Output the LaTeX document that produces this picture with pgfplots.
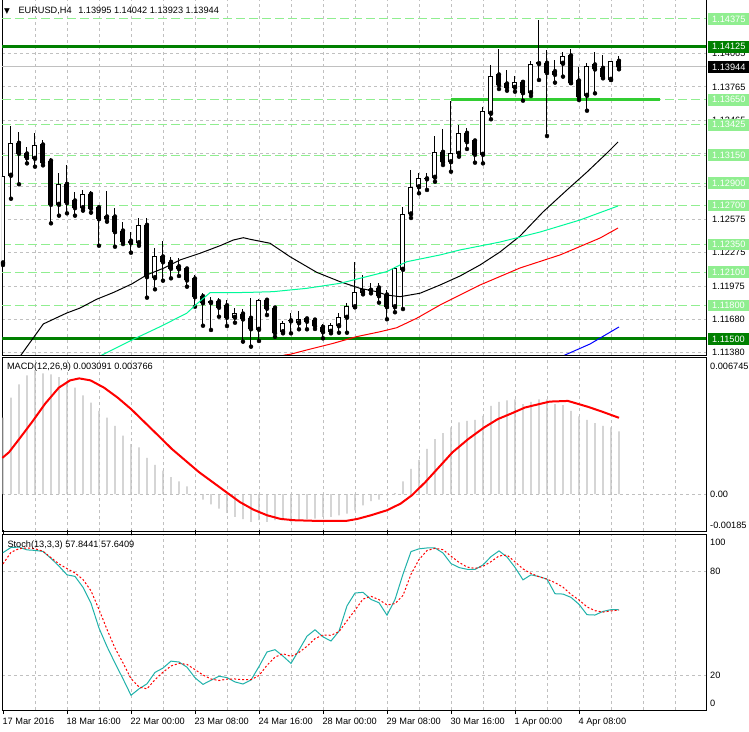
\documentclass[border=0pt]{standalone}
\usepackage{fontspec}
\setmainfont{Liberation Sans}
\newfontfamily\dejavu{DejaVu Sans}
\usepackage{pgfplots}
\usepackage{pgfplotstable}
\pgfplotsset{compat=1.18}
\definecolor{lgreen}{HTML}{90EE90}
\definecolor{dgreen}{HTML}{008000}
\definecolor{limeg}{HTML}{32CD32}
\definecolor{sgreen}{HTML}{00FA9A}
\definecolor{gridgray}{HTML}{C0C0C0}
\definecolor{silv}{HTML}{C0C0C0}
\definecolor{lsea}{HTML}{20B2AA}
\newcommand\lblfont{\fontsize{9.2}{11}\selectfont}
\newcommand\plbl[1]{\makebox[41pt][l]{\hspace{4pt}\rule[-2.7pt]{0pt}{11.7pt}#1}}
\newcommand\clbl[2]{{\setlength\fboxsep{0pt}\colorbox{#1}{\makebox[41pt][l]{\hspace{4pt}\rule[-2.7pt]{0pt}{11.7pt}\textcolor{white}{#2}}}}}

\pgfplotstableread{
i O H L C
0 1.12183 1.13027 1.12165 1.12964
1 1.12971 1.13414 1.12760 1.13258
2 1.13258 1.13357 1.12890 1.13168
3 1.13162 1.13222 1.13078 1.13129
4 1.13123 1.13348 1.13048 1.13240
5 1.13243 1.13288 1.13060 1.13087
6 1.13099 1.13129 1.12539 1.12710
7 1.12710 1.12994 1.12608 1.12890
8 1.12890 1.13063 1.12629 1.12725
9 1.12740 1.12821 1.12608 1.12680
10 1.12680 1.12839 1.12653 1.12800
11 1.12800 1.12832 1.12635 1.12674
12 1.12680 1.12695 1.12338 1.12581
13 1.12596 1.12830 1.12554 1.12584
14 1.12596 1.12680 1.12329 1.12464
15 1.12470 1.12551 1.12353 1.12374
16 1.12378 1.12464 1.12275 1.12365
17 1.12365 1.12590 1.12338 1.12521
18 1.12521 1.12584 1.11871 1.12060
19 1.12051 1.12315 1.11946 1.12237
20 1.12237 1.12380 1.12024 1.12194
21 1.12189 1.12239 1.12045 1.12135
22 1.12149 1.12225 1.12066 1.12131
23 1.12129 1.12149 1.11970 1.12030
24 1.12039 1.12075 1.11790 1.11880
25 1.11880 1.11910 1.11619 1.11826
26 1.11828 1.11874 1.11581 1.11837
27 1.11835 1.11866 1.11700 1.11785
28 1.11799 1.11850 1.11617 1.11695
29 1.11695 1.11776 1.11646 1.11731
30 1.11724 1.11767 1.11476 1.11680
31 1.11686 1.11866 1.11431 1.11592
32 1.11587 1.11860 1.11482 1.11848
33 1.11848 1.11850 1.11715 1.11776
34 1.11778 1.11780 1.11520 1.11556
35 1.11565 1.11664 1.11551 1.11641
36 1.11663 1.11731 1.11551 1.11670
37 1.11646 1.11751 1.11587 1.11677
38 1.11680 1.11695 1.11587 1.11659
39 1.11670 1.11680 1.11590 1.11619
40 1.11605 1.11635 1.11506 1.11565
41 1.11569 1.11641 1.11551 1.11619
42 1.11619 1.11731 1.11556 1.11691
43 1.11695 1.11826 1.11556 1.11790
44 1.11790 1.12194 1.11785 1.11919
45 1.11919 1.12075 1.11901 1.11946
46 1.11937 1.12000 1.11910 1.11943
47 1.11958 1.12006 1.11826 1.11889
48 1.11895 1.11940 1.11677 1.11790
49 1.11790 1.12149 1.11740 1.12135
50 1.12126 1.12686 1.11769 1.12614
51 1.12623 1.13018 1.12587 1.12863
52 1.12868 1.12989 1.12809 1.12944
53 1.12939 1.12989 1.12839 1.12944
54 1.12953 1.13324 1.12913 1.13177
55 1.13177 1.13384 1.13063 1.13093
56 1.13093 1.13641 1.13003 1.13168
57 1.13168 1.13423 1.13138 1.13348
58 1.13348 1.13398 1.13207 1.13273
59 1.13279 1.13288 1.13084 1.13159
60 1.13159 1.13587 1.13078 1.13542
61 1.13528 1.13962 1.13474 1.13857
62 1.13872 1.14103 1.13746 1.13782
63 1.13791 1.13917 1.13731 1.13761
64 1.13761 1.13863 1.13722 1.13806
65 1.13806 1.13827 1.13641 1.13713
66 1.13713 1.13998 1.13683 1.13968
67 1.13974 1.14366 1.13827 1.13980
68 1.13977 1.14097 1.13324 1.13893
69 1.13902 1.14007 1.13803 1.13878
70 1.13977 1.14081 1.13857 1.14036
71 1.14043 1.14103 1.13800 1.13803
72 1.13818 1.13941 1.13647 1.13677
73 1.13689 1.13977 1.13551 1.13946
74 1.13962 1.14076 1.13707 1.13926
75 1.13932 1.14052 1.13842 1.13857
76 1.13833 1.14000 1.13827 1.13990
77 1.13995 1.14042 1.13923 1.13944
}\candles

\pgfplotstableread{
i m
0 0.003781
1 0.004764
2 0.005419
3 0.005860
4 0.006122
5 0.005959
6 0.005910
7 0.005779
8 0.005582
9 0.005255
10 0.004878
11 0.004518
12 0.004109
13 0.003781
14 0.003372
15 0.002881
16 0.002472
17 0.002308
18 0.001784
19 0.001441
20 0.001162
21 0.000835
22 0.000622
23 0.000377
24 -0.000065
25 -0.000278
26 -0.000507
27 -0.000720
28 -0.000933
29 -0.001130
30 -0.001244
31 -0.001375
32 -0.001293
33 -0.001375
34 -0.001293
35 -0.001293
36 -0.001375
37 -0.001293
38 -0.001244
39 -0.001211
40 -0.001130
41 -0.001130
42 -0.001048
43 -0.000966
44 -0.000802
45 -0.000557
46 -0.000344
47 -0.000278
48 -0.000065
49 0.000050
50 0.000622
51 0.001244
52 0.001686
53 0.002226
54 0.002717
55 0.003012
56 0.003290
57 0.003536
58 0.003618
59 0.003667
60 0.003863
61 0.004354
62 0.004551
63 0.004633
64 0.004682
65 0.004436
66 0.004551
67 0.004682
68 0.004682
69 0.004436
70 0.004387
71 0.004109
72 0.003831
73 0.003667
74 0.003503
75 0.003372
76 0.003290
77 0.003091
}\macdtab

\pgfplotstableread{
i k d
0 90.8 84.3
1 93.8 91.0
2 94.0 93.1
3 92.4 93.5
4 92.1 93.1
5 91.5 91.6
6 87.5 87.9
7 83.0 84.3
8 78.0 81.6
9 77.1 79.1
10 70.8 75.3
11 61.6 68.8
12 47.3 58.0
13 36.6 46.5
14 27.1 35.7
15 18.0 27.2
16 8.5 18.1
17 12.2 13.3
18 15.1 12.2
19 21.7 17.5
20 24.2 21.8
21 28.2 25.4
22 27.7 26.9
23 24.7 26.3
24 18.6 23.3
25 14.8 20.2
26 17.2 17.9
27 19.5 17.0
28 18.7 17.8
29 16.2 17.9
30 15.0 17.5
31 17.3 17.5
32 25.1 19.9
33 33.5 25.8
34 34.8 30.5
35 31.1 32.5
36 26.9 30.9
37 34.6 33.2
38 42.6 36.8
39 46.3 41.2
40 42.2 43.3
41 39.8 43.1
42 45.5 45.2
43 60.1 51.5
44 67.5 57.6
45 67.9 64.0
46 63.8 65.6
47 61.9 63.7
48 54.7 60.6
49 63.7 61.4
50 78.4 66.1
51 91.4 78.3
52 93.0 86.8
53 93.5 92.0
54 93.5 93.3
55 90.6 92.5
56 84.5 88.8
57 82.2 85.2
58 81.2 82.5
59 81.1 81.7
60 83.7 82.9
61 88.5 85.6
62 91.8 88.9
63 88.3 89.4
64 82.3 85.5
65 75.1 81.4
66 78.0 78.8
67 77.0 76.9
68 75.5 75.5
69 67.1 73.5
70 66.9 70.9
71 65.0 66.7
72 61.0 63.5
73 55.0 59.5
74 54.8 57.3
75 56.9 56.5
76 57.9 57.2
77 57.84 57.64
}\stochtab

\pgfplotsset{
  common/.style={
    anchor=south west, scale only axis, width=704pt,
    xmin=-0.125, xmax=87.875,
    axis line style={black, line width=0.8pt},
    clip mode=individual,
    xtick={4,8,...,84}, xticklabels={},
    xmajorgrids, ymajorgrids,
    grid style={gridgray, line width=0.8pt, dash pattern=on 3pt off 3pt},
    major tick length=0pt,
    ytick pos=right, yticklabel pos=right,
    scaled y ticks=false,
    yticklabel style={anchor=west, inner sep=0pt, font=\lblfont},
    xticklabel style={font=\lblfont},
    tick style={black, line width=0.8pt},
  },
  lvl/.style={lgreen, line width=1pt, dash pattern=on 9pt off 4pt},
  ebar/.style={only marks, mark=none, error bars/.cd, y dir=plus, y explicit, error mark=none},
}

\begin{document}
\begin{tikzpicture}
\useasboundingbox (0pt,0pt) rectangle (749pt,731pt);
\fill[white] (0pt,0pt) rectangle (749pt,731pt);

%================ MAIN PRICE PANEL =================
\begin{axis}[common, at={(2pt,376pt)}, height=356pt,
  ymin=1.113561, ymax=1.145547,
  yticklabel style={xshift=2pt},
  ytick={1.14065,1.13765,1.13465,1.13170,1.12870,1.12575,1.12275,1.11975,1.11680,1.11380},
  yticklabels={\plbl{1.14065},\plbl{1.13765},\plbl{1.13465},\plbl{1.13170},\plbl{1.12870},\plbl{1.12575},\plbl{1.12275},\plbl{1.11975},\plbl{1.11680},\plbl{1.11380}},
  extra y ticks={1.14375,1.13650,1.13425,1.13150,1.12900,1.12700,1.12350,1.12100,1.11800,1.14125,1.11500,1.13944},
  extra y tick labels={\clbl{lgreen}{1.14375},\clbl{lgreen}{1.13650},\clbl{lgreen}{1.13425},\clbl{lgreen}{1.13150},\clbl{lgreen}{1.12900},\clbl{lgreen}{1.12700},\clbl{lgreen}{1.12350},\clbl{lgreen}{1.12100},\clbl{lgreen}{1.11800},\clbl{dgreen}{1.14125},\clbl{dgreen}{1.11500},\clbl{black}{1.13944}},
  extra y tick style={grid=none},
]
% horizontal levels
\addplot[lvl] coordinates {(-0.125,1.14375) (87.875,1.14375)};
\addplot[lvl] coordinates {(-0.125,1.13650) (87.875,1.13650)};
\addplot[lvl] coordinates {(-0.125,1.13425) (87.875,1.13425)};
\addplot[lvl] coordinates {(-0.125,1.13150) (87.875,1.13150)};
\addplot[lvl] coordinates {(-0.125,1.12900) (87.875,1.12900)};
\addplot[lvl] coordinates {(-0.125,1.12700) (87.875,1.12700)};
\addplot[lvl] coordinates {(-0.125,1.12350) (87.875,1.12350)};
\addplot[lvl] coordinates {(-0.125,1.12100) (87.875,1.12100)};
\addplot[lvl] coordinates {(-0.125,1.11800) (87.875,1.11800)};
\addplot[silv, line width=1pt] coordinates {(-0.125,1.13944) (87.875,1.13944)};
\addplot[dgreen, line width=3pt] coordinates {(-0.125,1.14125) (87.875,1.14125)};
\addplot[dgreen, line width=3pt] coordinates {(-0.125,1.11500) (87.875,1.11500)};
\addplot[limeg, line width=3pt] coordinates {(56,1.13650) (82.1,1.13650)};
% candles: wicks, bodies
\addplot[ebar, error bar style={black, line width=1pt}]
  table[x=i, y=L, y error plus expr={\thisrow{H}-\thisrow{L}}] {\candles};
\addplot[ebar, error bar style={black, line width=5pt}]
  table[x=i, y expr={min(\thisrow{O},\thisrow{C})-0.000045}, y error plus expr={abs(\thisrow{C}-\thisrow{O})+0.00009}] {\candles};
\addplot[ebar, error bar style={white, line width=3pt}]
  table[x=i, y expr={\thisrow{O}+0.000045}, y error plus expr={(\thisrow{C}>\thisrow{O})*max(\thisrow{C}-\thisrow{O}-0.00009,0)}] {\candles};
% moving averages
\addplot[black, line width=1pt] coordinates {(1.63,1.11293) (2.88,1.11419) (5.04,1.11635) (7.96,1.11733) (9.63,1.11778) (11.71,1.11857) (13.75,1.11916) (16.09,1.11994) (17.96,1.12075) (20.04,1.12135) (22.13,1.12210) (24.63,1.12270) (27.13,1.12338) (28.79,1.12389) (30.04,1.12410) (30.88,1.12396) (33.38,1.12360) (35.88,1.12239) (39.21,1.12099) (42.13,1.12015) (44.63,1.11955) (46.71,1.11925) (47.96,1.11895) (49.63,1.11880) (52.13,1.11911) (54.63,1.11985) (57.13,1.12066) (59.63,1.12165) (62.13,1.12282) (64.63,1.12425) (67.5,1.12641) (70.5,1.12839) (73,1.13000) (75.5,1.13171) (76.88,1.13270)};
\addplot[sgreen, line width=1pt] coordinates {(10.6,1.11293) (13.79,1.11407) (16.29,1.11497) (19.63,1.11610) (22.96,1.11731) (24.21,1.11814) (25.88,1.11916) (28.75,1.11916) (30.88,1.11919) (33.75,1.11925) (37.96,1.11955) (42.13,1.12000) (46.29,1.12075) (47.96,1.12105) (50.46,1.12194) (54.63,1.12255) (57.13,1.12300) (62.13,1.12371) (67.13,1.12461) (72.13,1.12569) (76.88,1.12695)};
\addplot[red, line width=1pt] coordinates {(32.1,1.11293) (35.25,1.11356) (35.88,1.11362) (37.96,1.11401) (41.29,1.11461) (44.21,1.11521) (47.13,1.11565) (49.21,1.11601) (51.71,1.11686) (54.63,1.11805) (59.63,1.11985) (64.63,1.12138) (69.63,1.12255) (74.63,1.12407) (76.88,1.12497)};
\addplot[blue, line width=1pt] coordinates {(68.56,1.11293) (70.25,1.11356) (73.38,1.11455) (77,1.11608)};
\end{axis}

%================ MACD PANEL =================
\begin{axis}[common, at={(2pt,199.5pt)}, height=174pt,
  ymin=-0.00185, ymax=0.006745,
  yticklabel style={xshift=4pt},
  ytick={0}, yticklabels={0.00},
  extra y ticks={0.006325,-0.001529}, extra y tick labels={0.006745,-0.00185},
  extra y tick style={grid=none},
]
\addplot[ybar, bar width=1.3pt, fill=silv, draw=none] table[x=i, y=m] {\macdtab};
\addplot[red, line width=2pt] coordinates {(-0.09,0.001784) (0.75,0.002063) (2.18,0.002799) (3.59,0.003536) (5.28,0.004469) (6.98,0.005255) (8.39,0.005615) (9.53,0.005713) (10.94,0.005615) (12.63,0.005255) (14.33,0.004764) (16.03,0.004191) (17.73,0.003536) (19.43,0.002881) (21.11,0.002226) (22.81,0.001653) (24.51,0.001080) (26.21,0.000589) (27.9,0.000098) (29.6,-0.000393) (31.3,-0.000769) (33,-0.001048) (34.69,-0.001228) (36.39,-0.001293) (39.21,-0.001326) (42.9,-0.001326) (44.31,-0.001228) (46,-0.001048) (47.99,-0.000802) (49.69,-0.000475) (51.1,-0.000065) (52.79,0.000589) (54.49,0.001326) (56.19,0.002063) (58.16,0.002717) (60.15,0.003290) (61.84,0.003700) (63.54,0.003978) (65.24,0.004273) (66.94,0.004436) (68.35,0.004567) (70.61,0.004600) (72.03,0.004436) (73.15,0.004305) (74.85,0.004076) (77,0.003766)};
\end{axis}

%================ STOCHASTIC PANEL =================
\begin{axis}[common, at={(2pt,21pt)}, height=175.5pt,
  ymin=0, ymax=101.27,
  yticklabel style={xshift=4pt},
  ytick={20,80}, yticklabels={20,80},
  extra y ticks={96.9,3.9}, extra y tick labels={100,0},
  extra y tick style={grid=none},
  extra x ticks={0,8,...,72},
  extra x tick labels={17 Mar 2016,18 Mar 16:00,22 Mar 00:00,23 Mar 08:00,24 Mar 16:00,28 Mar 00:00,29 Mar 08:00,30 Mar 16:00,1 Apr 00:00,4 Apr 08:00},
  extra x tick style={grid=none, major tick length=4pt, tick align=outside,
     xticklabel style={anchor=north west, inner sep=0pt, yshift=-4pt, xshift=-0.6pt}},
]
\addplot[lsea, line width=1pt] table[x=i, y=k] {\stochtab};
\addplot[red, line width=1pt, dash pattern=on 2pt off 2pt] table[x=i, y=d] {\stochtab};
\end{axis}

% panel captions
\node[anchor=base west, inner sep=0pt, font=\lblfont] at (4pt,717pt) {\dejavu\fontsize{7.5}{9}\selectfont ▼};
\node[anchor=base west, inner sep=0pt, font=\lblfont] at (18.3pt,717pt) {EURUSD,H4\hspace{6.6pt}1.13995 1.14042 1.13923 1.13944};
\node[anchor=base west, inner sep=0pt, font=\lblfont] at (6.8pt,361pt) {MACD(12,26,9) 0.003091 0.003766};
\node[anchor=base west, inner sep=0pt, font=\lblfont] at (7.3pt,183pt) {Stoch(13,3,3) 57.8441 57.6409};
\end{tikzpicture}
\end{document}
